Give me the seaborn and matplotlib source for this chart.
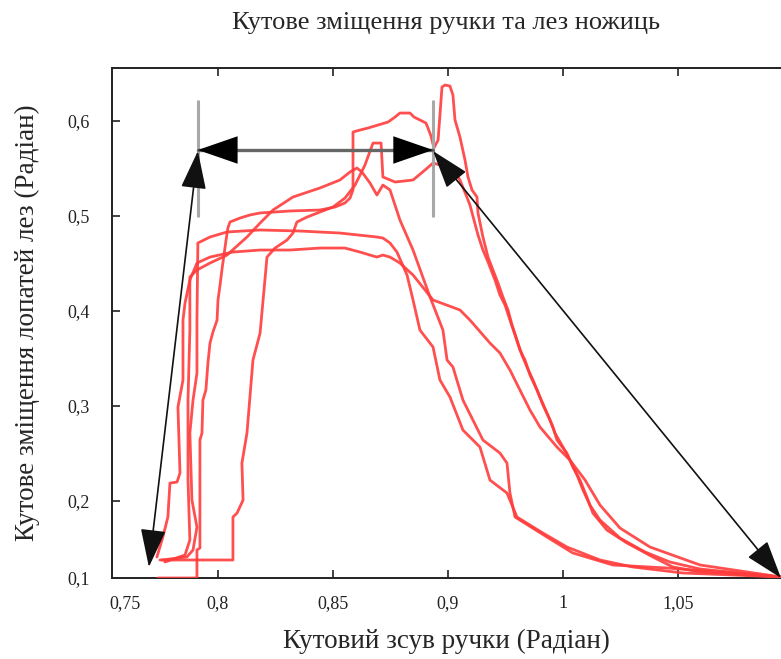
import numpy as np
import pandas as pd
import matplotlib
matplotlib.use("Agg")
import matplotlib.pyplot as plt
import seaborn as sns

# ---------------- data (radians) ----------------
XTICKS = [0.75, 0.8, 0.85, 0.9, 1.0, 1.05]
XTICK_LABELS = ["0,75", "0,8", "0,85", "0,9", "1", "1,05"]
YTICKS = [0.1, 0.2, 0.3, 0.4, 0.5, 0.6]
YTICK_LABELS = ["0,1", "0,2", "0,3", "0,4", "0,5", "0,6"]

a_x = [0.7677, 0.7887, 0.7887, 0.7903, 0.7903, 0.7914, 0.7919, 0.7935, 0.7946, 0.7957,
       0.7973, 0.7995, 0.8, 0.8009, 0.8017, 0.8026, 0.8035, 0.8043, 0.8052, 0.8096,
       0.8139, 0.8183, 0.8313, 0.8443, 0.8509, 0.8552, 0.8574, 0.8587, 0.8587, 0.8617,
       0.8652, 0.8696, 0.8739, 0.8770, 0.8791, 0.8835, 0.8852, 0.8878, 0.8904, 0.8913,
       0.8926, 0.8939, 0.8957, 0.8974, 0.8987, 0.9017, 0.9043, 0.9061, 0.9104, 0.9148,
       0.9174, 0.9209, 0.9252, 0.9261, 0.9304, 0.9348, 0.9391, 0.9435, 0.9478, 0.9522,
       0.9557, 0.9600, 0.9643, 0.9687, 0.9739, 0.9800, 0.9861, 0.9913, 0.9948, 1.0017,
       1.0043, 1.0074, 1.0104, 1.0130, 1.0191, 1.0278, 1.0391, 1.0478, 1.0596, 1.0739,
       1.0948]
a_y = [0.1, 0.1, 0.1364, 0.1390, 0.2642, 0.2716, 0.3063, 0.3168, 0.3453, 0.3663,
       0.3779, 0.3905, 0.4116, 0.4274, 0.4432, 0.4589, 0.4747, 0.4874, 0.4937, 0.4979,
       0.5011, 0.5032, 0.5053, 0.5063, 0.5095, 0.5137, 0.5189, 0.5274, 0.5884, 0.5905,
       0.5926, 0.5958, 0.5989, 0.6042, 0.6084, 0.6084, 0.6042, 0.6011, 0.5979, 0.5926,
       0.5842, 0.5716, 0.58, 0.6358, 0.6379, 0.6368, 0.6274, 0.6011, 0.5832, 0.5589,
       0.5411, 0.5274, 0.52, 0.5032, 0.4779, 0.4568, 0.4432, 0.4295, 0.4147, 0.4011,
       0.3853, 0.3695, 0.3537, 0.3411, 0.3274, 0.3095, 0.2926, 0.2779, 0.2642, 0.2505,
       0.2358, 0.2221, 0.2042, 0.1844, 0.1623, 0.1455, 0.1273, 0.1143, 0.1078, 0.1052,
       0.1013]

e_x = [0.7688, 0.8065, 0.8065, 0.8083, 0.8109, 0.8104, 0.8126, 0.8152, 0.8183, 0.8196,
       0.8204, 0.8213, 0.8248, 0.8300, 0.8326, 0.8343, 0.8387, 0.85, 0.8552, 0.8596,
       0.8639, 0.8674, 0.8709, 0.8717, 0.8770, 0.8848, 0.8900, 0.8935, 0.8965, 0.8996,
       0.9061, 0.9104, 0.9157, 0.9191, 0.9226, 0.9261, 0.9304, 0.9348, 0.9409, 0.9452,
       0.9496, 0.9539, 0.9583, 0.9626, 0.9670, 0.9713, 0.9774, 0.9826, 0.9887, 0.9930,
       1.0, 1.0030, 1.0061, 1.0087, 1.0117, 1.0161, 1.0248, 1.0357, 1.0465, 1.0596,
       1.0770, 1.0948]
e_y = [0.1234, 0.1234, 0.1792, 0.1844, 0.2011, 0.24, 0.2716, 0.3484, 0.3768, 0.4116,
       0.4326, 0.4568, 0.4663, 0.4747, 0.4821, 0.4937, 0.4989, 0.5095, 0.5189, 0.5326,
       0.5537, 0.5768, 0.5768, 0.5411, 0.5358, 0.5379, 0.5484, 0.5558, 0.5537, 0.5432,
       0.5463, 0.5379, 0.5221, 0.5116, 0.4958, 0.48, 0.4642, 0.4516, 0.4326, 0.4168,
       0.4063, 0.3905, 0.3747, 0.3589, 0.3484, 0.3326, 0.3168, 0.3011, 0.2853, 0.2716,
       0.2568, 0.2432, 0.2274, 0.2116, 0.1948, 0.1753, 0.1519, 0.1338, 0.1208, 0.1117,
       0.1065, 0.1013]

b_x = [0.7699, 0.7833, 0.7866, 0.7887, 0.7860, 0.7849, 0.7866, 0.7887, 0.7887, 0.7892,
       0.7957, 0.8039, 0.8183, 0.8357, 0.8530, 0.8691, 0.8717, 0.8748, 0.8778, 0.8822,
       0.8848, 0.8878, 0.8935, 0.8965, 0.9017, 0.9130, 0.9278, 0.9365, 0.9513, 0.9600,
       0.9826, 1.0017, 1.0161, 1.0304, 1.0522, 1.0948]
b_y = [0.1234, 0.1273, 0.1364, 0.1662, 0.2011, 0.2716, 0.3063, 0.3347, 0.3905, 0.4716,
       0.4779, 0.4832, 0.4853, 0.4842, 0.4821, 0.4779, 0.4768, 0.4716, 0.4621, 0.4379,
       0.4116, 0.38, 0.3621, 0.3274, 0.3095, 0.2747, 0.2568, 0.2221, 0.2084, 0.1792,
       0.1584, 0.1403, 0.1234, 0.1143, 0.1065, 0.1013]

c_x = [0.7672, 0.7704, 0.7731, 0.7742, 0.7780, 0.7796, 0.7785, 0.7812, 0.7812, 0.7823,
       0.7849, 0.7887, 0.7957, 0.8065, 0.8183, 0.8313, 0.8443, 0.8552, 0.8617, 0.8661,
       0.8691, 0.8717, 0.8748, 0.8791, 0.8848, 0.8935, 0.9104, 0.9191, 0.9365, 0.9452,
       0.9539, 0.9626, 0.9713, 0.98, 0.9948, 1.0030, 1.0096, 1.0161, 1.0248, 1.0378,
       1.0596, 1.0948]
c_y = [0.1273, 0.1532, 0.1792, 0.2189, 0.22, 0.2295, 0.2989, 0.3274, 0.3905, 0.4084,
       0.4326, 0.4505, 0.4568, 0.4621, 0.4642, 0.4642, 0.4663, 0.4663, 0.4621, 0.4589,
       0.4568, 0.4589, 0.4568, 0.4505, 0.4379, 0.4116, 0.4011, 0.3905, 0.3663, 0.3558,
       0.3379, 0.3168, 0.2958, 0.2779, 0.2568, 0.2432, 0.2221, 0.1948, 0.1649, 0.1403,
       0.1169, 0.1013]

d_x = [0.7715, 0.7823, 0.7849, 0.7839, 0.7839, 0.7849, 0.7849, 0.7887, 0.7957, 0.8039,
       0.8126, 0.8183, 0.8239, 0.8326, 0.8443, 0.8530, 0.8574, 0.8604, 0.8626, 0.8661,
       0.8691, 0.8717, 0.8748, 0.8791, 0.8848, 0.8922, 0.8978, 0.8996, 0.9043, 0.9130,
       0.9304, 0.9452, 0.9513, 0.9539, 0.9583, 0.9861, 1.0043, 1.0217, 1.0452, 1.0739,
       1.0948]
d_y = [0.1208, 0.1299, 0.1494, 0.2221, 0.3063, 0.38, 0.4358, 0.4432, 0.4505, 0.4589,
       0.4779, 0.4926, 0.5063, 0.52, 0.5295, 0.5379, 0.5463, 0.5505, 0.5463, 0.5347,
       0.5221, 0.5326, 0.5274, 0.4958, 0.4642, 0.4147, 0.38, 0.3484, 0.3411, 0.3063,
       0.2642, 0.2505, 0.24, 0.2084, 0.1792, 0.1532, 0.1325, 0.1169, 0.1130, 0.1065,
       0.1013]

# annotation geometry (data units)
guide_x = [0.7892, 0.8935]          # grey vertical guides
guide_y = [0.499, 0.622]
span_y = 0.5695                     # horizontal double arrow
left_arrow = [(0.7892, 0.5684), (0.7629, 0.1143)]
right_arrow = [(0.8935, 0.5684), (1.0948, 0.1)]

# ---------------- piecewise-linear axis scales ----------------
X_POS = [-0.81, 0, 1, 2, 3, 4]
Y_POS = [0, 0.81, 1.81, 2.81, 3.81, 4.81]


def make_pw(src, dst):
    src = np.asarray(src, float)
    dst = np.asarray(dst, float)
    s0 = (dst[1] - dst[0]) / (src[1] - src[0])
    s1 = (dst[-1] - dst[-2]) / (src[-1] - src[-2])

    def f(v):
        v = np.asarray(v, float)
        out = np.interp(v, src, dst)
        out = np.where(v < src[0], dst[0] + (v - src[0]) * s0, out)
        out = np.where(v > src[-1], dst[-1] + (v - src[-1]) * s1, out)
        return out
    return f


# ---------------- figure ----------------
sns.set_style("ticks")
plt.rcParams["font.family"] = ["Liberation Serif", "DejaVu Serif"]

fig = plt.figure(figsize=(7.81, 6.59), dpi=100)
ax = fig.add_axes([112 / 781, 81 / 659, 669 / 781, 510 / 659])

curves = [(a_x, a_y), (e_x, e_y), (b_x, b_y), (c_x, c_y), (d_x, d_y)]
for i, (cx, cy) in enumerate(curves):
    df = pd.DataFrame({"x": cx, "y": cy})
    sns.lineplot(data=df, x="x", y="y", sort=False, estimator=None, ax=ax,
                 color="#ff3c3c", lw=2.0, alpha=0.9, zorder=3)

ax.set_xscale("function", functions=(make_pw(XTICKS, X_POS), make_pw(X_POS, XTICKS)))
ax.set_yscale("function", functions=(make_pw(YTICKS, Y_POS), make_pw(Y_POS, YTICKS)))
ax.set_xlim(0.7431, 1.0948)
ax.set_ylim(0.1, 0.6558)

ax.set_xticks(XTICKS, XTICK_LABELS)
ax.set_yticks(YTICKS, YTICK_LABELS)
ax.minorticks_off()
ax.tick_params(axis="x", direction="in", length=6, width=1.2, top=True, bottom=True,
               labelsize=13, pad=12, colors="#222")
ax.tick_params(axis="y", direction="in", length=6, width=1.2, left=True, right=False,
               labelsize=13, pad=16, colors="#222")
for t in ax.xaxis.get_major_ticks()[:1]:
    t.tick1line.set_visible(False)
    t.tick2line.set_visible(False)
ax.yaxis.get_major_ticks()[0].tick1line.set_visible(False)

for s in ["left", "top", "bottom"]:
    ax.spines[s].set_linewidth(1.4)
    ax.spines[s].set_color("#222")
ax.spines["right"].set_visible(False)

# guides and arrows
for gx in guide_x:
    ax.plot([gx, gx], guide_y, color="#a8a8a8", lw=2.2, zorder=4, solid_capstyle="butt")
ax.plot(guide_x, [span_y, span_y], color="#666666", lw=2.4, zorder=5)
mid = (guide_x[0] + guide_x[1]) / 2
for end in guide_x:
    ax.annotate("", xy=(end, span_y), xytext=(mid, span_y),
                arrowprops=dict(arrowstyle="-|>,head_length=1.3,head_width=0.45",
                                color="black", lw=0, mutation_scale=22, shrinkA=0, shrinkB=0),
                zorder=6)
for (p0, p1) in [left_arrow, right_arrow]:
    ax.annotate("", xy=p1, xytext=p0,
                arrowprops=dict(arrowstyle="<|-|>,head_length=1.2,head_width=0.4",
                                color="#111", lw=1.2, mutation_scale=20, shrinkA=0, shrinkB=0),
                zorder=6, annotation_clip=False)

ax.set_xlabel("Кутовий зсув ручки (Радіан)", fontsize=19.5)
ax.set_ylabel("Кутове зміщення лопатей лез (Радіан)", fontsize=19.5)
ax.xaxis.set_label_coords(0.5, -0.1)
ax.yaxis.set_label_coords(-0.108, 0.5)
ax.set_title("Кутове зміщення ручки та лез ножиць", fontsize=19, pad=28)

fig.savefig("out.png", dpi=100)
